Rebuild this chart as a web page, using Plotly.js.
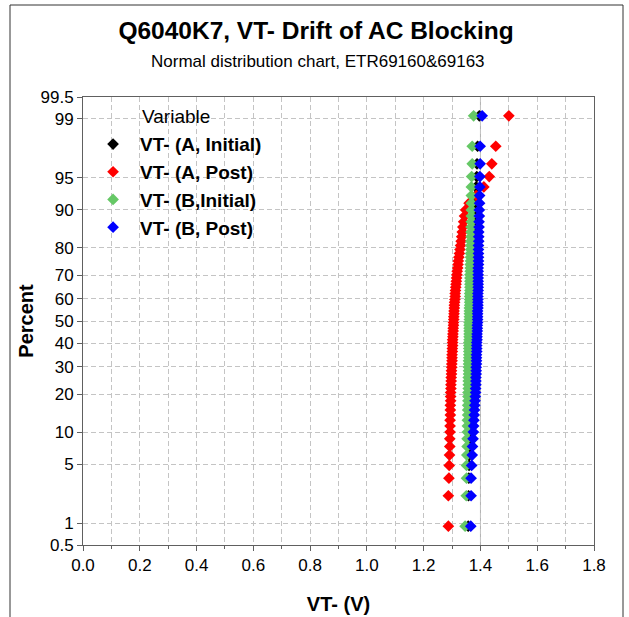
<!DOCTYPE html>
<html><head><meta charset="utf-8">
<script src="https://cdn.plot.ly/plotly-3.0.1.min.js"></script>
<style>html,body{margin:0;padding:0;background:#fff}#chart{width:629px;height:617px}</style>
</head><body><div id="chart"></div>
<script>
const seriesNames = ['VT- (A, Initial)', 'VT- (A, Post)', 'VT- (B,Initial)', 'VT- (B, Post)'];
const seriesColors = ['#000000', '#ff0000', '#66c866', '#0000ff'];

// VT- values (V), sorted ascending
const aInitial = [1.357,1.358,1.359,1.360,1.361,1.362,1.362,1.363,1.363,1.364,
 1.364,1.365,1.365,1.365,1.366,1.366,1.366,1.367,1.367,1.367,
 1.368,1.368,1.368,1.368,1.369,1.369,1.369,1.369,1.370,1.370,
 1.370,1.370,1.370,1.371,1.371,1.371,1.371,1.372,1.372,1.372,
 1.372,1.373,1.373,1.373,1.373,1.374,1.374,1.374,1.374,1.375,
 1.375,1.375,1.375,1.376,1.376,1.376,1.377,1.377,1.377,1.378,
 1.378,1.378,1.379,1.379,1.380,1.380,1.381,1.381,1.382,1.383,
 1.384,1.385,1.387,1.388,1.390,1.396];
const aPost = [1.287,1.287,1.289,1.290,1.291,1.292,1.292,1.293,1.293,1.293,
 1.294,1.294,1.294,1.295,1.295,1.295,1.296,1.296,1.297,1.297,
 1.298,1.298,1.299,1.299,1.300,1.300,1.300,1.301,1.301,1.302,
 1.302,1.302,1.303,1.303,1.304,1.304,1.305,1.305,1.306,1.306,
 1.307,1.307,1.308,1.308,1.309,1.310,1.311,1.311,1.312,1.313,
 1.314,1.315,1.316,1.317,1.318,1.320,1.321,1.322,1.324,1.326,
 1.328,1.330,1.332,1.334,1.336,1.338,1.341,1.344,1.348,1.360,
 1.385,1.412,1.431,1.440,1.454,1.500];
const bInitial = [1.346,1.350,1.351,1.351,1.352,1.353,1.353,1.354,1.354,1.354,
 1.355,1.355,1.355,1.356,1.356,1.356,1.357,1.357,1.357,1.357,
 1.358,1.358,1.358,1.358,1.358,1.359,1.359,1.359,1.359,1.359,
 1.359,1.360,1.360,1.360,1.360,1.360,1.360,1.360,1.361,1.361,
 1.361,1.361,1.361,1.362,1.362,1.362,1.362,1.362,1.363,1.363,
 1.363,1.363,1.363,1.363,1.364,1.364,1.364,1.365,1.365,1.365,
 1.366,1.366,1.366,1.367,1.367,1.367,1.368,1.368,1.368,1.368,
 1.368,1.368,1.369,1.371,1.371,1.376];
const bPost = [1.366,1.367,1.367,1.369,1.371,1.372,1.374,1.375,1.376,1.377,
 1.378,1.379,1.380,1.381,1.382,1.383,1.383,1.384,1.384,1.384,
 1.385,1.385,1.385,1.386,1.386,1.386,1.386,1.387,1.387,1.387,
 1.387,1.388,1.388,1.388,1.389,1.389,1.389,1.390,1.390,1.390,
 1.390,1.390,1.391,1.391,1.391,1.391,1.391,1.391,1.392,1.392,
 1.392,1.392,1.392,1.392,1.392,1.392,1.393,1.393,1.393,1.393,
 1.393,1.393,1.394,1.394,1.394,1.395,1.395,1.396,1.396,1.397,
 1.397,1.398,1.398,1.399,1.399,1.406];

const percentTicks = [0.5, 1, 5, 10, 20, 30, 40, 50, 60, 70, 80, 90, 95, 99, 99.5];
const percentLabels = ['0.5','1','5','10','20','30','40','50','60','70','80','90','95','99','99.5'];
const xTickVals = [0, 0.2, 0.4, 0.6, 0.8, 1.0, 1.2, 1.4, 1.6, 1.8];
const xTickLabels = ['0.0','0.2','0.4','0.6','0.8','1.0','1.2','1.4','1.6','1.8'];

// inverse standard normal CDF (probability-scale axis)
function normInv(p){
 const a=[-3.969683028665376e+01,2.209460984245205e+02,-2.759285104469687e+02,1.383577518672690e+02,-3.066479806614716e+01,2.506628277459239e+00];
 const b=[-5.447609879822406e+01,1.615858368580409e+02,-1.556989798598866e+02,6.680131188771972e+01,-1.328068155288572e+01];
 const c=[-7.784894002430293e-03,-3.223964580411365e-01,-2.400758277161838e+00,-2.549671348473137e+00,4.374664141464968e+00,2.938163982698783e+00];
 const d=[7.784695709041462e-03,3.224671290700398e-01,2.445134137142996e+00,3.754408661907416e+00];
 const pl=0.02425, ph=1-pl; let q,r;
 if(p<pl){q=Math.sqrt(-2*Math.log(p));return (((((c[0]*q+c[1])*q+c[2])*q+c[3])*q+c[4])*q+c[5])/((((d[0]*q+d[1])*q+d[2])*q+d[3])*q+1);}
 if(p<=ph){q=p-0.5;r=q*q;return (((((a[0]*r+a[1])*r+a[2])*r+a[3])*r+a[4])*r+a[5])*q/(((((b[0]*r+b[1])*r+b[2])*r+b[3])*r+b[4])*r+1);}
 q=Math.sqrt(-2*Math.log(1-p));return -(((((c[0]*q+c[1])*q+c[2])*q+c[3])*q+c[4])*q+c[5])/((((d[0]*q+d[1])*q+d[2])*q+d[3])*q+1);
}
// Benard median-rank plotting positions
function plotPos(n){ const out=[]; for(let i=1;i<=n;i++){ out.push((i-0.3)/(n+0.4)); } return out; }

const allSeries = [aInitial, aPost, bInitial, bPost];
const FONT = 'Arial, "Liberation Sans", sans-serif';

const traces = allSeries.map((vals, k) => {
  const pp = plotPos(vals.length);
  return {
    type: 'scatter', mode: 'markers', name: seriesNames[k], legendgroup: 'g'+k,
    x: vals, y: pp.map(normInv), customdata: pp.map(v => v*100),
    hovertemplate: '%{x:.3f} V, %{customdata:.1f}%<extra>'+seriesNames[k]+'</extra>',
    marker: {symbol: 'diamond', size: 9, color: seriesColors[k], line: {width: 0}}
  };
});

const gridC = '#c4c4c4';
const layout = {
  width: 629, height: 617,
  margin: {l: 83, r: 35, t: 97, b: 72, pad: 0},
  paper_bgcolor: '#ffffff', plot_bgcolor: '#ffffff',
  font: {family: FONT, color: '#000000', size: 17},
  showlegend: true,
  title: {text: 'Q6040K7, VT- Drift of AC Blocking', font: {family: FONT, size: 24.5, weight: 'bold', color: '#000'},
          xref: 'container', yref: 'container', x: 0.5024, xanchor: 'center', y: 1 - 30/617, yanchor: 'middle'},
  xaxis: {
    range: [0, 1.8], tickvals: xTickVals, ticktext: xTickLabels,
    ticks: 'outside', ticklen: 5, tickcolor: '#606060',
    showline: true, linecolor: '#606060', linewidth: 1, mirror: true,
    showgrid: true, gridcolor: gridC, griddash: '5px,3px', gridwidth: 1, zeroline: false,
    minor: {dtick: 0.1, tick0: 0, ticks: 'outside', ticklen: 3, tickcolor: '#606060', showgrid: true, gridcolor: gridC, griddash: '5px,3px'},
    tickfont: {size: 17, family: FONT},
    title: {text: 'VT- (V)', font: {size: 20, weight: 'bold', family: FONT}, standoff: 22}
  },
  yaxis: {
    range: [normInv(0.005), normInv(0.995)],
    tickvals: percentTicks.map(v => normInv(v/100)), ticktext: percentLabels,
    ticks: 'outside', ticklen: 5, tickcolor: '#606060',
    showline: true, linecolor: '#606060', linewidth: 1, mirror: true,
    showgrid: true, gridcolor: gridC, griddash: '5px,3px', gridwidth: 1, zeroline: false,
    tickfont: {size: 17, family: FONT},
    title: {text: 'Percent', font: {size: 20, weight: 'bold', family: FONT}, standoff: 1}
  },
  legend: {
    x: 0.006, y: 0.937, xanchor: 'left', yanchor: 'top', bgcolor: 'rgba(0,0,0,0)', borderwidth: 0,
    font: {size: 19, weight: 'bold', family: FONT, color: '#000'},
    itemwidth: 44, tracegroupgap: 2, traceorder: 'normal'
  },
  annotations: [
    {text: 'Normal distribution chart, ETR69160&69163', xref: 'paper', yref: 'paper', x: (318-83)/511, y: (545-61)/448,
     xanchor: 'center', yanchor: 'middle', showarrow: false, font: {size: 17, family: FONT, color: '#000'}},
    {text: 'Variable', xref: 'paper', yref: 'paper', x: (140-83)/511, y: (545-117)/448,
     xanchor: 'left', yanchor: 'middle', showarrow: false, font: {size: 19, family: FONT, color: '#000'}}
  ],
  shapes: [
    {type: 'line', xref: 'x', yref: 'paper', x0: 1.4, x1: 1.4, y0: 0, y1: 1, layer: 'below', line: {color: '#b0b0b0', width: 1}},
    {type: 'rect', xref: 'paper', yref: 'paper', x0: (10-83)/511, x1: (623-83)/511, y0: (545-640)/448, y1: (545-5)/448,
     line: {color: '#333333', width: 1}, fillcolor: 'rgba(0,0,0,0)', layer: 'below'}
  ]
};

Plotly.newPlot('chart', traces, layout, {displayModeBar: false, staticPlot: true});
</script>
</body></html>
